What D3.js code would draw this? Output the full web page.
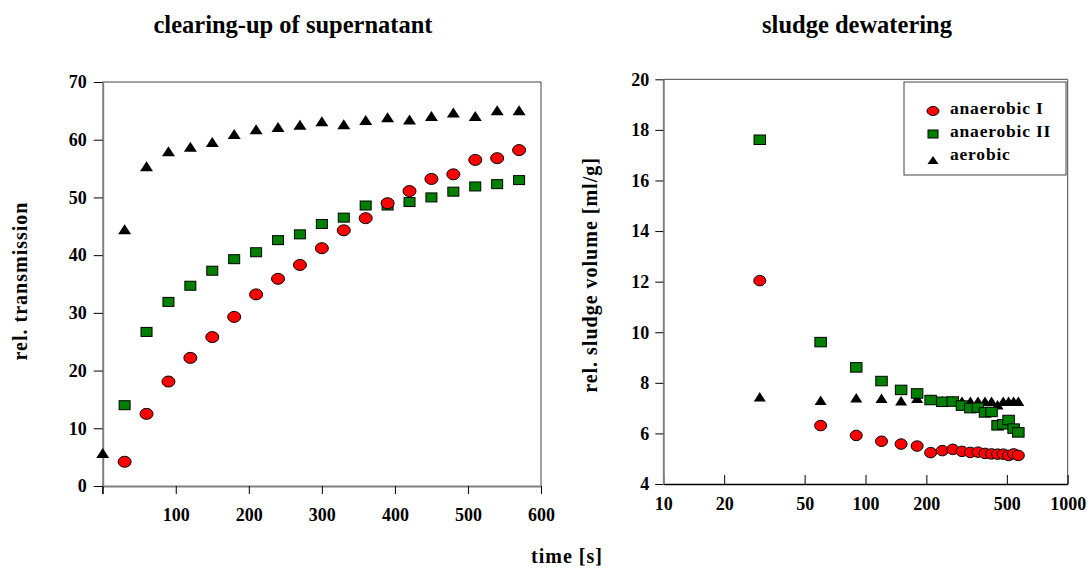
<!DOCTYPE html>
<html>
<head>
<meta charset="utf-8">
<script src="https://cdn.jsdelivr.net/npm/d3@7"></script>
<style>
  body { margin: 0; background: #fff; }
  svg text { font-family: "Liberation Serif", "Times New Roman", serif; font-weight: bold; fill: #000; }
  .tick text { font-size: 18px; }
  .tick line { stroke: #000; }
</style>
</head>
<body>
<svg width="1088" height="570"></svg>
<script>

// time of sampling, seconds
var leftTimes  = [0, 30, 60, 90, 120, 150, 180, 210, 240, 270, 300, 330, 360, 390, 420, 450, 480, 510, 540, 570];
var rightTimes = [30, 60, 90, 120, 150, 180, 210, 240, 270, 300, 330, 360, 390, 420, 450, 480, 510, 540, 570];

var seriesNames = ["anaerobic I", "anaerobic II", "aerobic"];

// clearing-up of supernatant: rel. transmission
var transAnaerobicI  = [null, 4.2, 12.5, 18.1, 22.2, 25.8, 29.3, 33.2, 35.9, 38.3, 41.2, 44.3, 46.4, 49.0, 51.1, 53.2, 54.0, 56.5, 56.8, 58.2];
var transAnaerobicII = [null, 14.0, 26.7, 31.9, 34.7, 37.3, 39.3, 40.5, 42.6, 43.6, 45.4, 46.5, 48.6, 48.6, 49.2, 50.0, 51.0, 51.9, 52.3, 53.0];
var transAerobic     = [5.7, 44.5, 55.4, 58.0, 58.8, 59.6, 61.0, 61.8, 62.2, 62.6, 63.2, 62.7, 63.4, 63.9, 63.5, 64.1, 64.7, 64.1, 65.1, 65.1];

// sludge dewatering: rel. sludge volume [ml/g]
var volAnaerobicI  = [12.04, 6.31, 5.92, 5.69, 5.58, 5.50, 5.24, 5.32, 5.37, 5.29, 5.25, 5.26, 5.21, 5.19, 5.18, 5.18, 5.13, 5.19, 5.13];
var volAnaerobicII = [17.61, 9.61, 8.61, 8.07, 7.72, 7.58, 7.32, 7.25, 7.26, 7.10, 7.00, 7.02, 6.83, 6.85, 6.32, 6.36, 6.53, 6.19, 6.04];
var volAerobic     = [7.45, 7.31, 7.41, 7.39, 7.29, 7.39, 7.35, 7.29, 7.29, 7.27, 7.27, 7.27, 7.27, 7.27, 7.13, 7.27, 7.27, 7.27, 7.27];

var leftXTicks  = [0, 100, 200, 300, 400, 500, 600];
var leftYTicks  = [0, 10, 20, 30, 40, 50, 60, 70];
var rightXTicks = [10, 20, 50, 100, 200, 500, 1000];
var rightYTicks = [4, 6, 8, 10, 12, 14, 16, 18, 20];

var colors = { "anaerobic I": "#ff0000", "anaerobic II": "#008000", "aerobic": "#000000" };

var svg = d3.select("svg");

// marker drawing: ellipse / rect / triangle of given width & height
function drawMarker(sel, kind, w, h) {
  if (kind === "anaerobic I") {
    sel.append("ellipse").attr("rx", w / 2).attr("ry", h / 2)
      .attr("fill", colors[kind]).attr("stroke", "#000").attr("stroke-width", 1);
  } else if (kind === "anaerobic II") {
    sel.append("rect").attr("x", -w / 2).attr("y", -h / 2).attr("width", w).attr("height", h)
      .attr("fill", colors[kind]).attr("stroke", "#000").attr("stroke-width", 1);
  } else {
    sel.append("path")
      .attr("d", "M0," + (-h / 2) + "L" + (w / 2) + "," + (h / 2) + "L" + (-w / 2) + "," + (h / 2) + "Z")
      .attr("fill", "#000");
  }
}

function plotSeries(g, kind, times, values, x, y, w, h) {
  var pts = times.map(function (t, i) { return { t: t, v: values[i] }; })
                 .filter(function (d) { return d.v != null; });
  g.selectAll(null).data(pts).enter().append("g")
    .attr("transform", function (d) { return "translate(" + x(d.t) + "," + y(d.v) + ")"; })
    .each(function () { drawMarker(d3.select(this), kind, w, h); });
}

// ---------- left chart ----------
var lx = d3.scaleLinear().domain([0, 600]).range([102.7, 541]);
var ly = d3.scaleLinear().domain([0, 70]).range([486, 82]);

var left = svg.append("g");

left.append("path")   // top + right frame
  .attr("d", "M" + lx(0) + "," + ly(70) + "H" + lx(600) + "V" + ly(0))
  .attr("fill", "none").attr("stroke", "#444").attr("stroke-width", 1);

left.append("g").attr("transform", "translate(0," + ly(0) + ")")
  .call(d3.axisBottom(lx).tickValues(leftXTicks).tickSize(8).tickSizeOuter(0).tickPadding(14)
    .tickFormat(function (d) { return d === 0 ? "" : d; }))
  .call(function (a) { a.select(".domain").attr("stroke", "#808080").attr("stroke-width", 2); });

left.append("g").attr("transform", "translate(" + lx(0) + ",0)")
  .call(d3.axisLeft(ly).tickValues(leftYTicks).tickSize(9).tickSizeOuter(0).tickPadding(7))
  .call(function (a) { a.select(".domain").attr("stroke", "#808080").attr("stroke-width", 2); });

// y-axis line runs down to the x tick length
left.append("line").attr("x1", lx(0)).attr("x2", lx(0)).attr("y1", ly(0)).attr("y2", ly(0) + 8)
  .attr("stroke", "#000");

plotSeries(left, "aerobic", leftTimes, transAerobic, lx, ly, 13, 10);
plotSeries(left, "anaerobic II", leftTimes, transAnaerobicII, lx, ly, 11, 9);
plotSeries(left, "anaerobic I", leftTimes, transAnaerobicI, lx, ly, 13, 11);

left.append("text").attr("x", 293).attr("y", 33).attr("text-anchor", "middle")
  .style("font-size", "24.5px").text("clearing-up of supernatant");

left.append("text").attr("transform", "translate(27,281) rotate(-90)").attr("text-anchor", "middle")
  .style("font-size", "20px").style("letter-spacing", "1px").text("rel. transmission");

// ---------- right chart ----------
var rx = d3.scaleLog().domain([10, 1000]).range([663.3, 1067.7]);
var ry = d3.scaleLinear().domain([4, 20]).range([484, 79.3]);

var right = svg.append("g");

right.append("path")
  .attr("d", "M" + rx(10) + "," + ry(20) + "H" + rx(1000) + "V" + ry(4))
  .attr("fill", "none").attr("stroke", "#444").attr("stroke-width", 1);

right.append("g").attr("transform", "translate(0," + ry(4) + ")")
  .call(d3.axisBottom(rx).tickValues(rightXTicks).tickSize(-9).tickSizeOuter(0).tickPadding(13)
    .tickFormat(d3.format("d")))
  .call(function (a) { a.select(".domain").attr("stroke", "#000").attr("stroke-width", 1.5); });

right.append("g").attr("transform", "translate(" + rx(10) + ",0)")
  .call(d3.axisLeft(ry).tickValues(rightYTicks).tickSize(8).tickSizeOuter(0).tickPadding(6))
  .call(function (a) { a.select(".domain").attr("stroke", "#808080").attr("stroke-width", 2); });

plotSeries(right, "aerobic", rightTimes, volAerobic, rx, ry, 12, 9.5);
plotSeries(right, "anaerobic II", rightTimes, volAnaerobicII, rx, ry, 11.5, 9.5);
plotSeries(right, "anaerobic I", rightTimes, volAnaerobicI, rx, ry, 12, 10.5);

right.append("text").attr("x", 857).attr("y", 33).attr("text-anchor", "middle")
  .style("font-size", "24.5px").text("sludge dewatering");

right.append("text").attr("transform", "translate(597,275) rotate(-90)").attr("text-anchor", "middle")
  .style("font-size", "20px").style("letter-spacing", "1px").text("rel. sludge volume [ml/g]");

// legend
var legend = right.append("g").attr("transform", "translate(904,82)");
legend.append("rect").attr("width", 162).attr("height", 93)
  .attr("fill", "#fff").attr("stroke", "#444").attr("stroke-width", 1);

var legendItem = legend.selectAll(".item").data(seriesNames).enter().append("g")
  .attr("class", "item")
  .attr("transform", function (d, i) { return "translate(0," + (29 + i * 23) + ")"; });

legendItem.append("g").attr("transform", "translate(29,0)")
  .each(function (d) {
    if (d === "anaerobic I") drawMarker(d3.select(this), d, 12, 9);
    else if (d === "anaerobic II") drawMarker(d3.select(this), d, 10, 8);
    else drawMarker(d3.select(this).attr("transform", "translate(29,3)"), d, 11, 8);
  });

legendItem.append("text").attr("x", 46).attr("y", 3)
  .style("font-size", "17.5px").style("letter-spacing", "0.8px").text(function (d) { return d; });

// shared x label
svg.append("text").attr("x", 567).attr("y", 563).attr("text-anchor", "middle")
  .style("font-size", "20px").style("letter-spacing", "1px").text("time [s]");

</script>
</body>
</html>
